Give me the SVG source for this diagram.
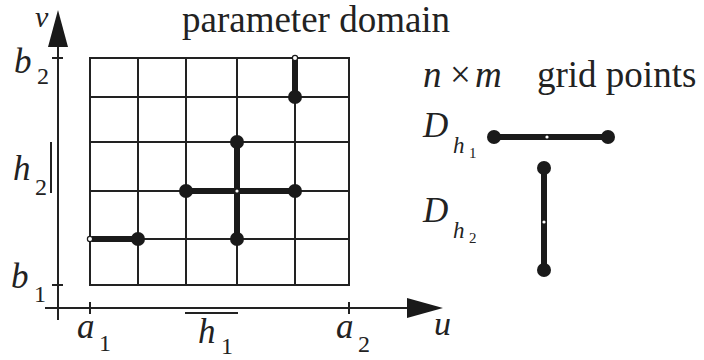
<svg xmlns="http://www.w3.org/2000/svg" width="704" height="360" viewBox="0 0 704 360">
<style>
.grid{stroke:#222;stroke-width:2;fill:none}
.axis{stroke:#222;stroke-width:2;fill:none}
.thick{stroke:#1a1a1a;stroke-width:6;stroke-linecap:butt}
.dot{fill:#1a1a1a}
.open{fill:#fff;stroke:#1a1a1a;stroke-width:1.2}
.mid{fill:#fff}
.t{font-family:"Liberation Serif","Times New Roman",serif;fill:#222}
.m{font-family:"Liberation Serif","Times New Roman",serif;font-style:italic;fill:#222}
</style>
<rect width="704" height="360" fill="#fff"/>
<g id="grid" class="grid">
<rect x="90" y="58" width="259" height="227"/>
<line x1="138" y1="58" x2="138" y2="285"/>
<line x1="186" y1="58" x2="186" y2="285"/>
<line x1="237" y1="58" x2="237" y2="285"/>
<line x1="295" y1="58" x2="295" y2="285"/>
<line x1="90" y1="97" x2="349" y2="97"/>
<line x1="90" y1="142" x2="349" y2="142"/>
<line x1="90" y1="191" x2="349" y2="191"/>
<line x1="90" y1="239" x2="349" y2="239"/>
</g>
<g id="axes">
<line class="axis" x1="58" y1="320" x2="58" y2="46"/>
<polygon points="58,10 48,47 68,47" fill="#1a1a1a"/>
<line class="axis" x1="45" y1="308" x2="408" y2="308"/>
<polygon points="443,308 407,298 407,318" fill="#1a1a1a"/>
<line class="axis" x1="52" y1="58" x2="63" y2="58"/>
<line class="axis" x1="52" y1="285" x2="63" y2="285"/>
<line class="axis" x1="90" y1="302" x2="90" y2="314"/>
<line class="axis" x1="349" y1="302" x2="349" y2="314"/>
<line class="axis" x1="51" y1="142" x2="51" y2="193"/>
<line class="axis" x1="185" y1="313" x2="238" y2="313"/>
</g>
<g id="segments">
<line class="thick" x1="295" y1="60" x2="295" y2="97"/>
<circle class="dot" cx="295" cy="97" r="7"/>
<circle class="open" cx="295" cy="58" r="2.6"/>
<line class="thick" x1="186" y1="191" x2="295" y2="191"/>
<line class="thick" x1="237" y1="142" x2="237" y2="239"/>
<circle class="dot" cx="186" cy="191" r="7"/>
<circle class="dot" cx="295" cy="191" r="7"/>
<circle class="dot" cx="237" cy="142" r="7"/>
<circle class="dot" cx="237" cy="239" r="7"/>
<circle class="mid" cx="237" cy="191" r="1.6"/>
<line class="thick" x1="92" y1="239" x2="138" y2="239"/>
<circle class="dot" cx="138" cy="239" r="7"/>
<circle class="open" cx="90" cy="239" r="2.6"/>
</g>
<g id="stencils">
<line class="thick" x1="494" y1="137" x2="608" y2="137"/>
<circle class="dot" cx="494" cy="137" r="7"/>
<circle class="dot" cx="608" cy="137" r="7"/>
<circle class="mid" cx="547" cy="137" r="1.6"/>
<line class="thick" x1="544" y1="168" x2="544" y2="270"/>
<circle class="dot" cx="544" cy="168" r="7"/>
<circle class="dot" cx="544" cy="270" r="7"/>
<circle class="mid" cx="544" cy="222" r="1.6"/>
</g>
<g id="labels">
<text class="t" x="182" y="32" font-size="37">parameter domain</text>
<text class="m" x="423" y="87" font-size="37">n</text>
<text class="t" x="450" y="87" font-size="37">×</text>
<text class="m" x="475" y="87" font-size="37">m</text>
<text class="t" x="537" y="87" font-size="37">grid points</text>
<text class="m" x="35" y="27" font-size="30">v</text>
<text class="m" x="14" y="73" font-size="35">b</text>
<text class="t" x="37" y="84" font-size="24">2</text>
<text class="m" x="13" y="180" font-size="35">h</text>
<text class="t" x="35" y="195" font-size="24">2</text>
<text class="m" x="11" y="288" font-size="35">b</text>
<text class="t" x="34" y="302" font-size="24">1</text>
<text class="m" x="77" y="338" font-size="35">a</text>
<text class="t" x="99" y="351" font-size="24">1</text>
<text class="m" x="198" y="343" font-size="35">h</text>
<text class="t" x="221" y="354" font-size="24">1</text>
<text class="m" x="336" y="338" font-size="35">a</text>
<text class="t" x="358" y="352" font-size="24">2</text>
<text class="m" x="434" y="335" font-size="34">u</text>
<text class="m" x="423" y="137" font-size="35">D</text>
<text class="m" x="453" y="153" font-size="23">h</text>
<text class="t" x="469" y="158" font-size="15">1</text>
<text class="m" x="423" y="222" font-size="35">D</text>
<text class="m" x="453" y="238" font-size="23">h</text>
<text class="t" x="469" y="243" font-size="15">2</text>
</g>
</svg>
